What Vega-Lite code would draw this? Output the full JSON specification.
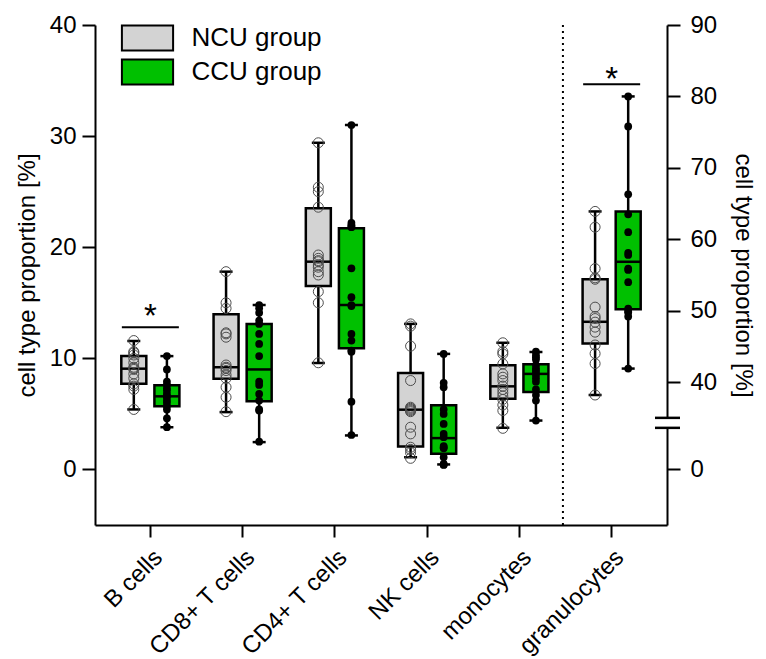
{
  "$schema": "https://vega.github.io/schema/vega-lite/v6.json",
  "width": 572,
  "height": 500,
  "autosize": {"type": "none"},
  "padding": {"left": 95, "top": 25, "right": 99, "bottom": 134},
  "config": {
    "font": "Liberation Sans",
    "view": {"stroke": null},
    "axis": {"grid": false, "domainColor": "black", "domainWidth": 2, "tickColor": "black", "tickWidth": 2, "labelColor": "black", "titleColor": "black", "titleFontWeight": "normal"}
  },
  "datasets": {
    "summary": [
      {"cell": "B cells", "group": "NCU group", "min": 5.4, "q1": 7.72, "median": 9.07, "q3": 10.2, "max": 11.56},
      {"cell": "B cells", "group": "CCU group", "min": 3.8, "q1": 5.68, "median": 6.58, "q3": 7.57, "max": 10.2},
      {"cell": "CD8+ T cells", "group": "NCU group", "min": 5.16, "q1": 8.17, "median": 9.2, "q3": 13.96, "max": 17.8},
      {"cell": "CD8+ T cells", "group": "CCU group", "min": 2.46, "q1": 6.13, "median": 9.0, "q3": 13.1, "max": 14.8},
      {"cell": "CD4+ T cells", "group": "NCU group", "min": 9.58, "q1": 16.5, "median": 18.7, "q3": 23.5, "max": 29.4},
      {"cell": "CD4+ T cells", "group": "CCU group", "min": 3.06, "q1": 10.9, "median": 14.8, "q3": 21.7, "max": 31.0},
      {"cell": "NK cells", "group": "NCU group", "min": 1.1, "q1": 2.07, "median": 5.38, "q3": 8.68, "max": 13.1},
      {"cell": "NK cells", "group": "CCU group", "min": 0.45, "q1": 1.41, "median": 2.82, "q3": 5.77, "max": 10.4},
      {"cell": "monocytes", "group": "NCU group", "min": 3.75, "q1": 6.37, "median": 7.48, "q3": 9.37, "max": 11.4},
      {"cell": "monocytes", "group": "CCU group", "min": 4.4, "q1": 6.97, "median": 8.6, "q3": 9.46, "max": 10.57},
      {"cell": "granulocytes", "group": "NCU group", "min": 38.2, "q1": 45.4, "median": 48.45, "q3": 54.4, "max": 63.9},
      {"cell": "granulocytes", "group": "CCU group", "min": 41.9, "q1": 50.2, "median": 56.85, "q3": 63.9, "max": 80.0}
    ],
    "points": [
      {"cell": "B cells", "group": "NCU group", "value": 11.6}, {"cell": "B cells", "group": "NCU group", "value": 10.6}, {"cell": "B cells", "group": "NCU group", "value": 10.5}, {"cell": "B cells", "group": "NCU group", "value": 10.3}, {"cell": "B cells", "group": "NCU group", "value": 10.0}, {"cell": "B cells", "group": "NCU group", "value": 9.6}, {"cell": "B cells", "group": "NCU group", "value": 9.2}, {"cell": "B cells", "group": "NCU group", "value": 9.1}, {"cell": "B cells", "group": "NCU group", "value": 9.0}, {"cell": "B cells", "group": "NCU group", "value": 8.6}, {"cell": "B cells", "group": "NCU group", "value": 8.2}, {"cell": "B cells", "group": "NCU group", "value": 7.7}, {"cell": "B cells", "group": "NCU group", "value": 7.5}, {"cell": "B cells", "group": "NCU group", "value": 7.2}, {"cell": "B cells", "group": "NCU group", "value": 5.4},
      {"cell": "B cells", "group": "CCU group", "value": 10.2}, {"cell": "B cells", "group": "CCU group", "value": 9.0}, {"cell": "B cells", "group": "CCU group", "value": 7.9}, {"cell": "B cells", "group": "CCU group", "value": 7.6}, {"cell": "B cells", "group": "CCU group", "value": 7.3}, {"cell": "B cells", "group": "CCU group", "value": 7.1}, {"cell": "B cells", "group": "CCU group", "value": 6.8}, {"cell": "B cells", "group": "CCU group", "value": 6.6}, {"cell": "B cells", "group": "CCU group", "value": 6.5}, {"cell": "B cells", "group": "CCU group", "value": 6.2}, {"cell": "B cells", "group": "CCU group", "value": 6.0}, {"cell": "B cells", "group": "CCU group", "value": 5.7}, {"cell": "B cells", "group": "CCU group", "value": 5.4}, {"cell": "B cells", "group": "CCU group", "value": 4.6}, {"cell": "B cells", "group": "CCU group", "value": 3.8},
      {"cell": "CD8+ T cells", "group": "NCU group", "value": 17.8}, {"cell": "CD8+ T cells", "group": "NCU group", "value": 15.0}, {"cell": "CD8+ T cells", "group": "NCU group", "value": 14.5}, {"cell": "CD8+ T cells", "group": "NCU group", "value": 12.3}, {"cell": "CD8+ T cells", "group": "NCU group", "value": 12.2}, {"cell": "CD8+ T cells", "group": "NCU group", "value": 11.9}, {"cell": "CD8+ T cells", "group": "NCU group", "value": 9.4}, {"cell": "CD8+ T cells", "group": "NCU group", "value": 9.2}, {"cell": "CD8+ T cells", "group": "NCU group", "value": 9.1}, {"cell": "CD8+ T cells", "group": "NCU group", "value": 8.9}, {"cell": "CD8+ T cells", "group": "NCU group", "value": 8.5}, {"cell": "CD8+ T cells", "group": "NCU group", "value": 8.2}, {"cell": "CD8+ T cells", "group": "NCU group", "value": 7.4}, {"cell": "CD8+ T cells", "group": "NCU group", "value": 6.5}, {"cell": "CD8+ T cells", "group": "NCU group", "value": 5.2},
      {"cell": "CD8+ T cells", "group": "CCU group", "value": 14.8}, {"cell": "CD8+ T cells", "group": "CCU group", "value": 14.5}, {"cell": "CD8+ T cells", "group": "CCU group", "value": 14.1}, {"cell": "CD8+ T cells", "group": "CCU group", "value": 13.4}, {"cell": "CD8+ T cells", "group": "CCU group", "value": 13.1}, {"cell": "CD8+ T cells", "group": "CCU group", "value": 12.2}, {"cell": "CD8+ T cells", "group": "CCU group", "value": 11.3}, {"cell": "CD8+ T cells", "group": "CCU group", "value": 10.2}, {"cell": "CD8+ T cells", "group": "CCU group", "value": 7.9}, {"cell": "CD8+ T cells", "group": "CCU group", "value": 7.6}, {"cell": "CD8+ T cells", "group": "CCU group", "value": 6.8}, {"cell": "CD8+ T cells", "group": "CCU group", "value": 6.2}, {"cell": "CD8+ T cells", "group": "CCU group", "value": 5.4}, {"cell": "CD8+ T cells", "group": "CCU group", "value": 5.3}, {"cell": "CD8+ T cells", "group": "CCU group", "value": 2.5},
      {"cell": "CD4+ T cells", "group": "NCU group", "value": 29.4}, {"cell": "CD4+ T cells", "group": "NCU group", "value": 25.4}, {"cell": "CD4+ T cells", "group": "NCU group", "value": 25.0}, {"cell": "CD4+ T cells", "group": "NCU group", "value": 23.6}, {"cell": "CD4+ T cells", "group": "NCU group", "value": 19.3}, {"cell": "CD4+ T cells", "group": "NCU group", "value": 19.0}, {"cell": "CD4+ T cells", "group": "NCU group", "value": 18.8}, {"cell": "CD4+ T cells", "group": "NCU group", "value": 18.7}, {"cell": "CD4+ T cells", "group": "NCU group", "value": 18.4}, {"cell": "CD4+ T cells", "group": "NCU group", "value": 18.2}, {"cell": "CD4+ T cells", "group": "NCU group", "value": 17.8}, {"cell": "CD4+ T cells", "group": "NCU group", "value": 17.5}, {"cell": "CD4+ T cells", "group": "NCU group", "value": 16.0}, {"cell": "CD4+ T cells", "group": "NCU group", "value": 15.0}, {"cell": "CD4+ T cells", "group": "NCU group", "value": 9.6},
      {"cell": "CD4+ T cells", "group": "CCU group", "value": 31.0}, {"cell": "CD4+ T cells", "group": "CCU group", "value": 22.2}, {"cell": "CD4+ T cells", "group": "CCU group", "value": 22.0}, {"cell": "CD4+ T cells", "group": "CCU group", "value": 21.9}, {"cell": "CD4+ T cells", "group": "CCU group", "value": 21.8}, {"cell": "CD4+ T cells", "group": "CCU group", "value": 18.1}, {"cell": "CD4+ T cells", "group": "CCU group", "value": 15.5}, {"cell": "CD4+ T cells", "group": "CCU group", "value": 14.8}, {"cell": "CD4+ T cells", "group": "CCU group", "value": 14.7}, {"cell": "CD4+ T cells", "group": "CCU group", "value": 12.2}, {"cell": "CD4+ T cells", "group": "CCU group", "value": 11.6}, {"cell": "CD4+ T cells", "group": "CCU group", "value": 10.7}, {"cell": "CD4+ T cells", "group": "CCU group", "value": 10.6}, {"cell": "CD4+ T cells", "group": "CCU group", "value": 6.1}, {"cell": "CD4+ T cells", "group": "CCU group", "value": 3.1},
      {"cell": "NK cells", "group": "NCU group", "value": 13.1}, {"cell": "NK cells", "group": "NCU group", "value": 12.9}, {"cell": "NK cells", "group": "NCU group", "value": 11.1}, {"cell": "NK cells", "group": "NCU group", "value": 8.0}, {"cell": "NK cells", "group": "NCU group", "value": 5.6}, {"cell": "NK cells", "group": "NCU group", "value": 5.5}, {"cell": "NK cells", "group": "NCU group", "value": 5.4}, {"cell": "NK cells", "group": "NCU group", "value": 5.3}, {"cell": "NK cells", "group": "NCU group", "value": 5.2}, {"cell": "NK cells", "group": "NCU group", "value": 3.8}, {"cell": "NK cells", "group": "NCU group", "value": 3.2}, {"cell": "NK cells", "group": "NCU group", "value": 2.0}, {"cell": "NK cells", "group": "NCU group", "value": 1.8}, {"cell": "NK cells", "group": "NCU group", "value": 1.5}, {"cell": "NK cells", "group": "NCU group", "value": 1.0},
      {"cell": "NK cells", "group": "CCU group", "value": 10.4}, {"cell": "NK cells", "group": "CCU group", "value": 7.8}, {"cell": "NK cells", "group": "CCU group", "value": 7.4}, {"cell": "NK cells", "group": "CCU group", "value": 5.4}, {"cell": "NK cells", "group": "CCU group", "value": 5.0}, {"cell": "NK cells", "group": "CCU group", "value": 4.1}, {"cell": "NK cells", "group": "CCU group", "value": 3.2}, {"cell": "NK cells", "group": "CCU group", "value": 2.9}, {"cell": "NK cells", "group": "CCU group", "value": 2.1}, {"cell": "NK cells", "group": "CCU group", "value": 2.0}, {"cell": "NK cells", "group": "CCU group", "value": 1.9}, {"cell": "NK cells", "group": "CCU group", "value": 1.1}, {"cell": "NK cells", "group": "CCU group", "value": 0.5}, {"cell": "NK cells", "group": "CCU group", "value": 0.45}, {"cell": "NK cells", "group": "CCU group", "value": 0.4},
      {"cell": "monocytes", "group": "NCU group", "value": 11.4}, {"cell": "monocytes", "group": "NCU group", "value": 10.6}, {"cell": "monocytes", "group": "NCU group", "value": 10.4}, {"cell": "monocytes", "group": "NCU group", "value": 9.5}, {"cell": "monocytes", "group": "NCU group", "value": 8.6}, {"cell": "monocytes", "group": "NCU group", "value": 8.3}, {"cell": "monocytes", "group": "NCU group", "value": 8.0}, {"cell": "monocytes", "group": "NCU group", "value": 7.5}, {"cell": "monocytes", "group": "NCU group", "value": 7.2}, {"cell": "monocytes", "group": "NCU group", "value": 6.9}, {"cell": "monocytes", "group": "NCU group", "value": 6.6}, {"cell": "monocytes", "group": "NCU group", "value": 6.3}, {"cell": "monocytes", "group": "NCU group", "value": 5.8}, {"cell": "monocytes", "group": "NCU group", "value": 5.3}, {"cell": "monocytes", "group": "NCU group", "value": 3.7},
      {"cell": "monocytes", "group": "CCU group", "value": 10.6}, {"cell": "monocytes", "group": "CCU group", "value": 10.3}, {"cell": "monocytes", "group": "CCU group", "value": 10.1}, {"cell": "monocytes", "group": "CCU group", "value": 9.9}, {"cell": "monocytes", "group": "CCU group", "value": 9.4}, {"cell": "monocytes", "group": "CCU group", "value": 9.1}, {"cell": "monocytes", "group": "CCU group", "value": 8.9}, {"cell": "monocytes", "group": "CCU group", "value": 8.7}, {"cell": "monocytes", "group": "CCU group", "value": 8.5}, {"cell": "monocytes", "group": "CCU group", "value": 8.2}, {"cell": "monocytes", "group": "CCU group", "value": 7.9}, {"cell": "monocytes", "group": "CCU group", "value": 7.2}, {"cell": "monocytes", "group": "CCU group", "value": 6.7}, {"cell": "monocytes", "group": "CCU group", "value": 6.2}, {"cell": "monocytes", "group": "CCU group", "value": 4.4},
      {"cell": "granulocytes", "group": "NCU group", "value": 63.9}, {"cell": "granulocytes", "group": "NCU group", "value": 61.7}, {"cell": "granulocytes", "group": "NCU group", "value": 55.9}, {"cell": "granulocytes", "group": "NCU group", "value": 54.6}, {"cell": "granulocytes", "group": "NCU group", "value": 54.4}, {"cell": "granulocytes", "group": "NCU group", "value": 50.5}, {"cell": "granulocytes", "group": "NCU group", "value": 49.2}, {"cell": "granulocytes", "group": "NCU group", "value": 48.9}, {"cell": "granulocytes", "group": "NCU group", "value": 48.4}, {"cell": "granulocytes", "group": "NCU group", "value": 47.7}, {"cell": "granulocytes", "group": "NCU group", "value": 47.0}, {"cell": "granulocytes", "group": "NCU group", "value": 45.2}, {"cell": "granulocytes", "group": "NCU group", "value": 44.0}, {"cell": "granulocytes", "group": "NCU group", "value": 42.6}, {"cell": "granulocytes", "group": "NCU group", "value": 38.2},
      {"cell": "granulocytes", "group": "CCU group", "value": 80.0}, {"cell": "granulocytes", "group": "CCU group", "value": 75.8}, {"cell": "granulocytes", "group": "CCU group", "value": 66.3}, {"cell": "granulocytes", "group": "CCU group", "value": 63.5}, {"cell": "granulocytes", "group": "CCU group", "value": 61.0}, {"cell": "granulocytes", "group": "CCU group", "value": 58.1}, {"cell": "granulocytes", "group": "CCU group", "value": 57.8}, {"cell": "granulocytes", "group": "CCU group", "value": 55.9}, {"cell": "granulocytes", "group": "CCU group", "value": 55.7}, {"cell": "granulocytes", "group": "CCU group", "value": 54.0}, {"cell": "granulocytes", "group": "CCU group", "value": 50.3}, {"cell": "granulocytes", "group": "CCU group", "value": 49.9}, {"cell": "granulocytes", "group": "CCU group", "value": 49.8}, {"cell": "granulocytes", "group": "CCU group", "value": 49.2}, {"cell": "granulocytes", "group": "CCU group", "value": 41.9}
    ],
    "sigLeft": [{"cell": "B cells", "line": 12.8, "star": 12.8, "label": "*"}],
    "sigRight": [{"cell": "granulocytes", "line": 81.7, "star": 80.9, "label": "*"}]
  },
  "resolve": {"scale": {"y": "independent"}, "axis": {"y": "independent"}},
  "layer": [
    {
      "layer": [
        {
          "data": {"name": "summary"},
          "transform": [{"filter": "datum.cell !== 'granulocytes'"}],
          "layer": [
            {
              "mark": {"type": "rule", "color": "black", "strokeWidth": 2.5},
              "encoding": {
                "x": {"field": "cell", "type": "nominal", "title": null, "scale": {"domain": ["B cells", "CD8+ T cells", "CD4+ T cells", "NK cells", "monocytes", "granulocytes"], "paddingInner": 0.2, "paddingOuter": 0.2}, "axis": {"labelAngle": -45, "labelFontSize": 24, "tickSize": 12, "labelPadding": 8}},
                "xOffset": {"field": "group", "type": "nominal", "scale": {"domain": ["NCU group", "CCU group"], "paddingInner": 0.2, "paddingOuter": 0.215}},
                "y": {"field": "min", "type": "quantitative", "title": "cell type proportion [%]", "scale": {"domain": [-5, 40], "nice": false, "zero": false}, "axis": {"values": [0, 10, 20, 30, 40], "labelFontSize": 24, "titleFontSize": 24, "tickSize": 13, "labelPadding": 6, "titlePadding": 10}},
                "y2": {"field": "max"}
              }
            },
            {
              "mark": {"type": "bar", "size": 25, "stroke": "black", "strokeWidth": 2.5},
              "encoding": {
                "x": {"field": "cell", "type": "nominal", "title": null},
                "xOffset": {"field": "group", "type": "nominal"},
                "y": {"field": "q1", "type": "quantitative", "title": "cell type proportion [%]"},
                "y2": {"field": "q3"},
                "color": {"field": "group", "type": "nominal", "scale": {"domain": ["NCU group", "CCU group"], "range": ["#d3d3d3", "#00c000"]}, "legend": {"orient": "none", "legendX": 35.5, "legendY": -4, "title": null, "padding": 0, "symbolType": "M-1.6,-0.78H1.6V0.78H-1.6Z", "symbolSize": 1024, "symbolStrokeColor": "black", "symbolStrokeWidth": 2, "symbolOpacity": 1, "labelFontSize": 26, "labelColor": "black", "labelOffset": 27, "rowPadding": 0}}
              }
            },
            {
              "mark": {"type": "tick", "size": 25, "thickness": 2.5, "color": "black", "opacity": 1},
              "encoding": {
                "x": {"field": "cell", "type": "nominal", "title": null},
                "xOffset": {"field": "group", "type": "nominal"},
                "y": {"field": "median", "type": "quantitative", "title": "cell type proportion [%]"}
              }
            },
            {
              "mark": {"type": "tick", "size": 13, "thickness": 2.5, "color": "black", "opacity": 1},
              "encoding": {
                "x": {"field": "cell", "type": "nominal", "title": null},
                "xOffset": {"field": "group", "type": "nominal"},
                "y": {"field": "min", "type": "quantitative", "title": "cell type proportion [%]"}
              }
            },
            {
              "mark": {"type": "tick", "size": 13, "thickness": 2.5, "color": "black", "opacity": 1},
              "encoding": {
                "x": {"field": "cell", "type": "nominal", "title": null},
                "xOffset": {"field": "group", "type": "nominal"},
                "y": {"field": "max", "type": "quantitative", "title": "cell type proportion [%]"}
              }
            }
          ]
        },
        {
          "data": {"name": "points"},
          "transform": [{"filter": "datum.cell !== 'granulocytes' && datum.group === 'NCU group'"}],
          "mark": {"type": "point", "shape": "circle", "size": 100, "filled": false, "stroke": "#4d4d4d", "strokeWidth": 1, "opacity": 1},
          "encoding": {
            "x": {"field": "cell", "type": "nominal", "title": null},
            "xOffset": {"field": "group", "type": "nominal"},
            "y": {"field": "value", "type": "quantitative", "title": "cell type proportion [%]"}
          }
        },
        {
          "data": {"name": "points"},
          "transform": [{"filter": "datum.cell !== 'granulocytes' && datum.group === 'CCU group'"}],
          "mark": {"type": "point", "shape": "circle", "size": 60, "filled": true, "color": "black", "opacity": 1},
          "encoding": {
            "x": {"field": "cell", "type": "nominal", "title": null},
            "xOffset": {"field": "group", "type": "nominal"},
            "y": {"field": "value", "type": "quantitative", "title": "cell type proportion [%]"}
          }
        },
        {
          "data": {"name": "sigLeft"},
          "mark": {"type": "tick", "size": 57, "thickness": 2, "color": "black", "opacity": 1},
          "encoding": {
            "x": {"field": "cell", "type": "nominal", "title": null},
            "y": {"field": "line", "type": "quantitative", "title": "cell type proportion [%]"}
          }
        },
        {
          "data": {"name": "sigLeft"},
          "mark": {"type": "text", "fontSize": 33, "baseline": "alphabetic", "align": "center", "color": "black"},
          "encoding": {
            "x": {"field": "cell", "type": "nominal", "title": null},
            "y": {"field": "star", "type": "quantitative", "title": "cell type proportion [%]"},
            "text": {"field": "label"}
          }
        },
        {
          "data": {"values": [{}]},
          "mark": {"type": "rule", "color": "black", "strokeWidth": 2, "strokeDash": [2, 4]},
          "encoding": {
            "x": {"datum": "granulocytes", "type": "nominal", "bandPosition": -0.16}
          }
        }
      ]
    },
    {
      "layer": [
        {
          "data": {"name": "summary"},
          "transform": [{"filter": "datum.cell === 'granulocytes'"}],
          "layer": [
            {
              "mark": {"type": "rule", "color": "black", "strokeWidth": 2.5},
              "encoding": {
                "x": {"field": "cell", "type": "nominal", "title": null},
                "xOffset": {"field": "group", "type": "nominal"},
                "y": {"field": "min", "type": "quantitative", "title": "cell type proportion [%]", "scale": {"domain": [20, 90], "nice": false, "zero": false}, "axis": {"orient": "right", "values": [27.78, 40, 50, 60, 70, 80, 90], "labelExpr": "datum.value < 30 ? '0' : datum.label", "labelFontSize": 24, "titleFontSize": 24, "tickSize": 13, "labelPadding": 10, "titlePadding": 14}},
                "y2": {"field": "max"}
              }
            },
            {
              "mark": {"type": "bar", "size": 25, "stroke": "black", "strokeWidth": 2.5},
              "encoding": {
                "x": {"field": "cell", "type": "nominal", "title": null},
                "xOffset": {"field": "group", "type": "nominal"},
                "y": {"field": "q1", "type": "quantitative", "title": "cell type proportion [%]"},
                "y2": {"field": "q3"},
                "color": {"field": "group", "type": "nominal"}
              }
            },
            {
              "mark": {"type": "tick", "size": 25, "thickness": 2.5, "color": "black", "opacity": 1},
              "encoding": {
                "x": {"field": "cell", "type": "nominal", "title": null},
                "xOffset": {"field": "group", "type": "nominal"},
                "y": {"field": "median", "type": "quantitative", "title": "cell type proportion [%]"}
              }
            },
            {
              "mark": {"type": "tick", "size": 13, "thickness": 2.5, "color": "black", "opacity": 1},
              "encoding": {
                "x": {"field": "cell", "type": "nominal", "title": null},
                "xOffset": {"field": "group", "type": "nominal"},
                "y": {"field": "min", "type": "quantitative", "title": "cell type proportion [%]"}
              }
            },
            {
              "mark": {"type": "tick", "size": 13, "thickness": 2.5, "color": "black", "opacity": 1},
              "encoding": {
                "x": {"field": "cell", "type": "nominal", "title": null},
                "xOffset": {"field": "group", "type": "nominal"},
                "y": {"field": "max", "type": "quantitative", "title": "cell type proportion [%]"}
              }
            }
          ]
        },
        {
          "data": {"name": "points"},
          "transform": [{"filter": "datum.cell === 'granulocytes' && datum.group === 'NCU group'"}],
          "mark": {"type": "point", "shape": "circle", "size": 100, "filled": false, "stroke": "#4d4d4d", "strokeWidth": 1, "opacity": 1},
          "encoding": {
            "x": {"field": "cell", "type": "nominal", "title": null},
            "xOffset": {"field": "group", "type": "nominal"},
            "y": {"field": "value", "type": "quantitative", "title": "cell type proportion [%]"}
          }
        },
        {
          "data": {"name": "points"},
          "transform": [{"filter": "datum.cell === 'granulocytes' && datum.group === 'CCU group'"}],
          "mark": {"type": "point", "shape": "circle", "size": 60, "filled": true, "color": "black", "opacity": 1},
          "encoding": {
            "x": {"field": "cell", "type": "nominal", "title": null},
            "xOffset": {"field": "group", "type": "nominal"},
            "y": {"field": "value", "type": "quantitative", "title": "cell type proportion [%]"}
          }
        },
        {
          "data": {"name": "sigRight"},
          "mark": {"type": "tick", "size": 57, "thickness": 2, "color": "black", "opacity": 1},
          "encoding": {
            "x": {"field": "cell", "type": "nominal", "title": null},
            "y": {"field": "line", "type": "quantitative", "title": "cell type proportion [%]"}
          }
        },
        {
          "data": {"name": "sigRight"},
          "mark": {"type": "text", "fontSize": 33, "baseline": "alphabetic", "align": "center", "color": "black"},
          "encoding": {
            "x": {"field": "cell", "type": "nominal", "title": null},
            "y": {"field": "star", "type": "quantitative", "title": "cell type proportion [%]"},
            "text": {"field": "label"}
          }
        },
        {
          "data": {"values": [{}]},
          "mark": {"type": "rect", "fill": "white", "xOffset": -6, "x2Offset": 6},
          "encoding": {
            "x": {"value": "width"},
            "x2": {"value": "width"},
            "y": {"datum": 35.0, "type": "quantitative", "title": "cell type proportion [%]"},
            "y2": {"datum": 33.6}
          }
        },
        {
          "data": {"values": [{}]},
          "mark": {"type": "rule", "color": "black", "strokeWidth": 2.5, "xOffset": -12, "x2Offset": 13},
          "encoding": {
            "x": {"value": "width"},
            "x2": {"value": "width"},
            "y": {"datum": 35.0, "type": "quantitative", "title": "cell type proportion [%]"}
          }
        },
        {
          "data": {"values": [{}]},
          "mark": {"type": "rule", "color": "black", "strokeWidth": 2.5, "xOffset": -12, "x2Offset": 13},
          "encoding": {
            "x": {"value": "width"},
            "x2": {"value": "width"},
            "y": {"datum": 33.6, "type": "quantitative", "title": "cell type proportion [%]"}
          }
        }
      ]
    }
  ]
}
